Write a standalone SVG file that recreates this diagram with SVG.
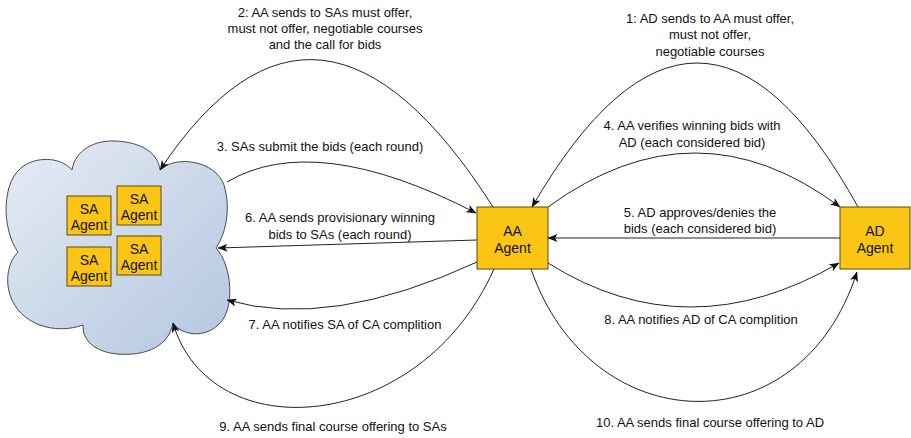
<svg xmlns="http://www.w3.org/2000/svg" width="911" height="438" viewBox="0 0 911 438">
<style>
.lbl{font-family:"Liberation Sans",Arial,sans-serif;font-size:13px;fill:#111;text-anchor:middle}
.ntx{font-family:"Liberation Sans",Arial,sans-serif;font-size:14px;fill:#111;text-anchor:middle}
.box{fill:#FBC515;stroke:#5e4b0c;stroke-width:1}
.con{fill:none;stroke:#222;stroke-width:1;marker-end:url(#ah)}
</style>
<defs>
<linearGradient id="cg" x1="0" y1="0" x2="1" y2="1">
<stop offset="0" stop-color="#e6ecf5"/>
<stop offset="1" stop-color="#b3c6df"/>
</linearGradient>
<marker id="ah" viewBox="0 0 10 8" refX="9.5" refY="4" markerWidth="10" markerHeight="8" orient="auto" markerUnits="userSpaceOnUse">
<path d="M0,0 L10,4 L0,8 L2.5,4 z" fill="#111"/>
</marker>
</defs>
<rect width="911" height="438" fill="#fff"/>

<g id="sa-cloud">
<path d="M18,252 C2,230 0,180 25,165 C40,156 62,158 72,170 C75,150 95,140 115,141 C140,142 158,152 160,170 C175,155 215,160 224,185 C230,205 228,230 216,248 C232,265 236,310 218,325 C205,338 182,336 173,323 C168,350 140,356 117,354 C95,352 82,340 83,325 C55,335 20,325 10,295 C5,280 8,262 18,252 Z" fill="url(#cg)" stroke="#4a4a4a" stroke-width="1"/>
<g id="sa1"><rect class="box" x="67" y="196" width="44" height="39"/><text class="ntx" x="89" y="214">SA</text><text class="ntx" x="89" y="230">Agent</text></g>
<g id="sa2"><rect class="box" x="117" y="186" width="44" height="39"/><text class="ntx" x="139" y="204">SA</text><text class="ntx" x="139" y="220">Agent</text></g>
<g id="sa3"><rect class="box" x="67" y="247" width="44" height="39"/><text class="ntx" x="89" y="265">SA</text><text class="ntx" x="89" y="281">Agent</text></g>
<g id="sa4"><rect class="box" x="117" y="236" width="44" height="39"/><text class="ntx" x="139" y="254">SA</text><text class="ntx" x="139" y="270">Agent</text></g>
</g>

<g id="aa-agent"><rect class="box" x="477" y="207" width="71" height="62"/><text class="ntx" x="512.5" y="236">AA</text><text class="ntx" x="512.5" y="253">Agent</text></g>
<g id="ad-agent"><rect class="box" x="840" y="207" width="70" height="62"/><text class="ntx" x="875" y="236">AD</text><text class="ntx" x="875" y="253">Agent</text></g>

<g id="connectors">
<path class="con" d="M858,207 Q699,-81 532,207"/>
<path class="con" d="M493,207 Q318,-68 160,170"/>
<path class="con" d="M227,182 Q315,130 476,213"/>
<path class="con" d="M548,207 Q696,99 840,207"/>
<path class="con" d="M840,238 L548,238"/>
<path class="con" d="M477,240 L218,248"/>
<path class="con" d="M477,262 Q330,330 227,300"/>
<path class="con" d="M548,263 Q688,351 839,263"/>
<path class="con" d="M494,269 C420,435 210,450 173,323"/>
<path class="con" d="M531,269 C590,440 800,450 857,272"/>
</g>

<g id="labels">
<text class="lbl" x="325" y="17">2: AA sends to SAs must offer,</text>
<text class="lbl" x="325" y="33">must not offer, negotiable courses</text>
<text class="lbl" x="325" y="49">and the call for bids</text>
<text class="lbl" x="710" y="23">1: AD sends to AA must offer,</text>
<text class="lbl" x="710" y="39">must not offer,</text>
<text class="lbl" x="710" y="56">negotiable courses</text>
<text class="lbl" x="320" y="151">3. SAs submit the bids (each round)</text>
<text class="lbl" x="692" y="130">4. AA verifies winning bids with</text>
<text class="lbl" x="692" y="147">AD (each considered bid)</text>
<text class="lbl" x="340" y="222">6. AA sends provisionary winning</text>
<text class="lbl" x="340" y="239">bids to SAs (each round)</text>
<text class="lbl" x="700" y="217">5. AD approves/denies the</text>
<text class="lbl" x="700" y="233">bids (each considered bid)</text>
<text class="lbl" x="345" y="329">7. AA notifies SA of CA complition</text>
<text class="lbl" x="701" y="324">8. AA notifies AD of CA complition</text>
<text class="lbl" x="333" y="431">9. AA sends final course offering to SAs</text>
<text class="lbl" x="710" y="427">10. AA sends final course offering to AD</text>
</g>
</svg>
